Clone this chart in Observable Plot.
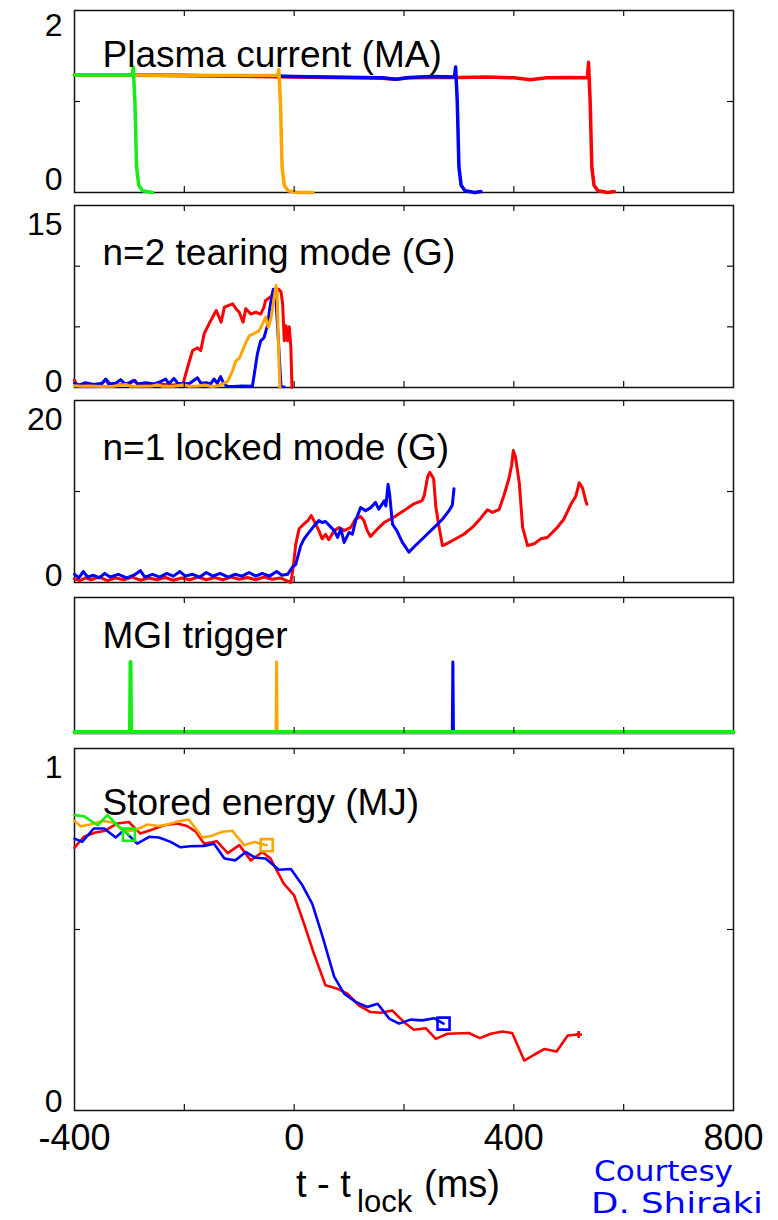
<!DOCTYPE html>
<html>
<head>
<meta charset="utf-8">
<script src="https://cdn.jsdelivr.net/npm/d3@7"></script>
<script src="https://cdn.jsdelivr.net/npm/@observablehq/plot@0.6"></script>
<style>
  html, body { margin: 0; padding: 0; background: #fff; }
  #chart { position: relative; width: 778px; height: 1220px; overflow: hidden; background: #fff; }
  #chart svg { position: absolute; left: 0; overflow: visible; background: transparent; }
</style>
</head>
<body>
<div id="chart"></div>
<script>
// ---- shared time axis (ms, relative to locking) ----
const xDomain = [-400, 800];
const xInnerTicks = [-200, 0, 200, 400, 600];
const xTickLabels = [-400, 0, 400, 800];

// ---- plasma current (MA): [t, Ip] ----
const ipRed = [[-400,1.29],[-200,1.285],[0,1.27],[60,1.265],[120,1.26],[160,1.255],[185,1.245],[210,1.26],[260,1.265],[300,1.265],[350,1.27],[400,1.26],[430,1.24],[460,1.26],[500,1.265],[534,1.26],[536,1.43],[539,1.0],[542,0.28],[546,0.08],[553,0.02],[571,0.0],[583,0.01]];
const ipBlue = [[-400,1.29],[-300,1.29],[-200,1.285],[-100,1.28],[-30,1.28],[0,1.275],[60,1.27],[120,1.265],[160,1.26],[185,1.245],[210,1.265],[250,1.275],[292,1.27],[294,1.38],[297,1.0],[300,0.28],[304,0.08],[311,0.02],[329,0.0],[340,0.01]];
const ipOrange = [[-400,1.29],[-300,1.29],[-200,1.285],[-100,1.285],[-30,1.285],[-28,1.35],[-25,1.0],[-22,0.28],[-18,0.08],[-11,0.02],[7,0.0],[34,0.0]];
const ipGreen = [[-400,1.29],[-350,1.29],[-295,1.29],[-293,1.38],[-290,1.0],[-287,0.28],[-283,0.08],[-276,0.02],[-258,0.0]];

// ---- n=2 tearing mode amplitude (G): [t, B] ----
const tmRed = [[-400,0.6],[-396,0.2],[-380,0.25],[-365,0.2],[-350,0.3],[-343,0.65],[-338,0.25],[-320,0.2],[-300,0.3],[-290,0.6],[-285,0.25],[-270,0.2],[-250,0.3],[-235,0.25],[-220,0.2],[-210,0.25],[-203,0.2],[-194,1.67],[-185,3.05],[-176,3.27],[-170,3.05],[-164,4.42],[-155,5.25],[-142,6.35],[-133,5.38],[-127,6.62],[-112,6.9],[-106,6.5],[-100,6.2],[-93,5.38],[-88,6.5],[-79,6.05],[-70,6.2],[-61,6.05],[-55,6.62],[-52,7.17],[-45,7.4],[-36,7.7],[-28,8.1],[-24,7.9],[-21,6.9],[-18,3.85],[-15,5.1],[-12,3.85],[-9,5.0],[-6,3.3],[-4,0]];
const tmBlue = [[-400,0.35],[-392,0.2],[-380,0.4],[-365,0.25],[-350,0.35],[-343,0.7],[-336,0.3],[-325,0.35],[-316,0.65],[-308,0.3],[-300,0.4],[-292,0.6],[-285,0.3],[-270,0.4],[-255,0.3],[-245,0.45],[-234,0.7],[-228,0.3],[-219,0.75],[-212,0.35],[-200,0.3],[-190,0.35],[-176,0.8],[-170,0.35],[-160,0.4],[-152,0.3],[-146,0.7],[-140,0.35],[-134,0.9],[-128,0.3],[-122,0.1],[-110,0.08],[-95,0.12],[-76,0.1],[-67,2.77],[-61,3.85],[-55,4.1],[-48,5.2],[-45,6.35],[-41,7.45],[-38,8.1],[-33,7.17],[-29,4.1],[-24,0.1],[-18,0.05]];
const tmOrange = [[-400,0.15],[-385,0.1],[-370,0.12],[-350,0.08],[-330,0.1],[-306,0.25],[-298,0.1],[-280,0.1],[-260,0.12],[-248,0.22],[-240,0.1],[-220,0.1],[-200,0.22],[-192,0.1],[-175,0.12],[-163,0.2],[-150,0.08],[-138,0.15],[-130,0.3],[-121,0.5],[-112,1.4],[-106,2.2],[-100,2.4],[-94,3.05],[-88,3.7],[-82,4.26],[-73,4.45],[-64,4.67],[-58,5.2],[-52,5.8],[-47,4.95],[-42,5.75],[-38,6.9],[-33,8.4],[-31,7.9],[-29,4.1],[-26,0]];

// ---- n=1 locked mode amplitude (G): [t, B] ----
const lmRed = [[-400,0.4],[-390,0.2],[-380,0.5],[-370,0.3],[-355,0.6],[-340,0.2],[-325,0.5],[-310,0.3],[-295,0.6],[-280,0.25],[-265,0.5],[-250,0.3],[-235,0.55],[-220,0.25],[-205,0.5],[-190,0.3],[-175,0.6],[-160,0.3],[-145,0.55],[-130,0.3],[-115,0.6],[-100,0.35],[-85,0.55],[-70,0.3],[-55,0.6],[-40,0.35],[-25,0.5],[-14,0.2],[-6,0],[-1.5,1.8],[3,4.25],[9,5.9],[18,6.45],[25,6.8],[31,7.36],[36,6.8],[45,5.7],[51,4.8],[57,5.3],[63,4.7],[73,5.7],[82,6.05],[91,5.7],[103,6.05],[112,7.0],[121,7.25],[127,6.8],[133,5.7],[139,5.05],[152,5.9],[164,6.6],[182,7.2],[200,7.9],[218,8.65],[233,9.0],[237,9.6],[243,11.6],[247,12.1],[254,11.4],[258,8.3],[264,6.05],[270,4.06],[279,4.3],[291,4.7],[309,5.3],[327,6.2],[340,7.1],[352,8.0],[361,7.7],[373,8.0],[382,9.56],[391,11.4],[396,12.86],[399,14.5],[403,13.8],[410,10.9],[416,6.05],[425,4.06],[437,4.25],[449,4.8],[461,4.95],[479,6.05],[491,6.95],[504,8.6],[513,9.5],[519,10.96],[525,10.4],[531,8.97],[533,8.6]];
const lmBlue = [[-400,0.9],[-392,0.5],[-384,1.2],[-376,0.6],[-365,0.8],[-355,0.5],[-345,1.0],[-335,0.6],[-320,0.9],[-305,0.5],[-292,0.8],[-280,1.3],[-272,0.6],[-258,0.9],[-245,0.6],[-232,1.0],[-220,0.7],[-208,1.2],[-198,0.7],[-185,0.9],[-172,0.6],[-160,1.1],[-148,0.7],[-135,1.0],[-120,0.6],[-108,0.9],[-95,0.7],[-82,1.1],[-70,0.7],[-58,1.0],[-45,0.7],[-32,1.2],[-22,0.8],[-12,0.9],[-3,1.7],[3,2.0],[6,2.7],[12,4.06],[18,4.8],[27,5.5],[36,6.2],[45,6.8],[51,6.6],[57,6.7],[73,5.7],[79,4.95],[85,5.9],[91,4.4],[100,5.5],[106,5.3],[112,6.8],[121,8.24],[130,7.9],[139,8.2],[148,8.8],[154,8.06],[164,8.97],[167,8.4],[171,10.8],[174,9.6],[179,6.4],[187,5.7],[197,4.4],[209,3.33],[218,3.9],[236,4.95],[255,6.05],[270,6.95],[282,7.9],[288,8.5],[291,10.3]];

// ---- MGI trigger signal: [t, level] ----
const mgiBlue = [[-400,0.02],[288,0.02],[289,1.0],[290,0.02],[800,0.02]];
const mgiOrange = [[-400,0.02],[-33,0.02],[-32,1.0],[-31,0.02],[800,0.02]];
const mgiGreen = [[-400,0.02],[-299,0.02],[-298,1.0],[-297,0.02],[800,0.02]];

// ---- stored energy (MJ): [t, W] ----
const weRed = [[-400,0.726],[-383,0.756],[-362,0.768],[-346,0.772],[-322,0.793],[-301,0.797],[-280,0.765],[-258,0.776],[-237,0.788],[-213,0.793],[-195,0.786],[-179,0.77],[-164,0.737],[-141,0.744],[-121,0.711],[-100,0.733],[-79,0.691],[-58,0.714],[-43,0.696],[-19,0.627],[0,0.594],[18,0.516],[36,0.433],[57,0.346],[79,0.336],[97,0.323],[118,0.29],[139,0.272],[158,0.27],[179,0.276],[200,0.244],[218,0.223],[240,0.227],[258,0.198],[279,0.212],[318,0.214],[338,0.2],[358,0.212],[379,0.218],[397,0.214],[419,0.138],[437,0.154],[456,0.17],[478,0.163],[498,0.207],[518,0.21]];
const weBlue = [[-400,0.751],[-386,0.742],[-365,0.779],[-346,0.779],[-325,0.754],[-310,0.774],[-286,0.737],[-264,0.756],[-246,0.754],[-225,0.742],[-207,0.727],[-189,0.73],[-164,0.731],[-146,0.737],[-127,0.696],[-107,0.691],[-88,0.714],[-70,0.698],[-52,0.696],[-28,0.665],[-6,0.667],[15,0.622],[33,0.571],[51,0.484],[73,0.369],[91,0.323],[112,0.3],[133,0.286],[152,0.295],[173,0.254],[191,0.24],[212,0.251],[233,0.249],[255,0.255],[272,0.24]];
const weOrange = [[-400,0.8],[-389,0.785],[-371,0.79],[-349,0.8],[-328,0.795],[-310,0.77],[-289,0.775],[-267,0.79],[-246,0.786],[-231,0.79],[-213,0.798],[-192,0.804],[-167,0.754],[-152,0.758],[-131,0.77],[-113,0.773],[-91,0.733],[-73,0.742],[-60,0.737],[-50,0.733]];
const weGreen = [[-400,0.816],[-383,0.813],[-358,0.788],[-340,0.816],[-322,0.788],[-301,0.762]];

// end-of-shot markers on the stored energy traces
const endSquares = [
  {t: -301, w: 0.762, c: "green"},
  {t: -50, w: 0.733, c: "orange"},
  {t: 272, w: 0.24, c: "blue"}
];
const endPlus = [{t: 518, w: 0.21, c: "red"}];

// ---- colours and layout ----
const colour = {red: "#ff0000", blue: "#0000ff", orange: "#ffa500", green: "#14ee14"};
const FONT = "'Liberation Sans', Arial, Helvetica, sans-serif";
const ML = 74, MR = 45, PAD = 20, WIDTH = 778;
const INK = "#111";

// stroked "+" marker
const plusSymbol = {
  draw(ctx, size) {
    const r = Math.sqrt(size / Math.PI);
    ctx.moveTo(-r, 0); ctx.lineTo(r, 0);
    ctx.moveTo(0, -r); ctx.lineTo(0, r);
  }
};

const chart = document.getElementById("chart");

function panel({top, bottom, yDomain, yInner, yLabels, title, titleBase, series, lineWidth, extra = []}) {
  const h = bottom - top;
  const fw = WIDTH - ML - MR;
  const marks = [
    Plot.frame({stroke: INK, strokeWidth: 1.5}),
    ...series.map(([data, c, sw]) => Plot.line(data, {
      x: d => d[0], y: d => d[1], stroke: colour[c],
      strokeWidth: sw ?? lineWidth, strokeLinejoin: "round", curve: "linear"
    })),
    ...extra,
    // inward ticks on all four sides
    Plot.tickX(xInnerTicks, {x: d => d, insetTop: h - 6, stroke: INK, strokeWidth: 1.2}),
    Plot.tickX(xInnerTicks, {x: d => d, insetBottom: h - 6, stroke: INK, strokeWidth: 1.2}),
    Plot.tickY(yInner, {y: d => d, insetRight: fw - 6, stroke: INK, strokeWidth: 1.2}),
    Plot.tickY(yInner, {y: d => d, insetLeft: fw - 6, stroke: INK, strokeWidth: 1.2}),
    ...yLabels.map(({v, dy}) => Plot.axisY({
      ticks: [v], tickSize: 0, tickPadding: 12, fontSize: 32, dy,
      tickFormat: d => String(d), label: null, fill: "#000"
    })),
    Plot.text([title], {
      frameAnchor: "top-left", text: d => d, dx: 28,
      dy: titleBase - top - 0.32 * 37, fontSize: 37, textAnchor: "start", fill: "#000"
    })
  ];
  const svg = Plot.plot({
    width: WIDTH,
    height: h + 2 * PAD,
    marginLeft: ML, marginRight: MR, marginTop: PAD, marginBottom: PAD,
    x: {domain: xDomain, axis: null},
    y: {domain: yDomain, axis: null},
    style: {fontFamily: FONT, background: "transparent", overflow: "visible", color: "#000"},
    marks
  });
  svg.style.top = (top - PAD) + "px";
  chart.appendChild(svg);
}

panel({
  top: 10, bottom: 192, yDomain: [0, 2], yInner: [1],
  yLabels: [{v: 2, dy: 15}, {v: 0, dy: -13}],
  title: "Plasma current (MA)", titleBase: 52, lineWidth: 3.5,
  series: [[ipRed, "red"], [ipBlue, "blue"], [ipOrange, "orange"], [ipGreen, "green"]]
});

panel({
  top: 205, bottom: 387, yDomain: [0, 15], yInner: [5, 10],
  yLabels: [{v: 15, dy: 19}, {v: 0, dy: -6}],
  title: "n=2 tearing mode (G)", titleBase: 250, lineWidth: 3,
  series: [[tmRed, "red"], [tmBlue, "blue"], [tmOrange, "orange"]]
});

panel({
  top: 400, bottom: 582, yDomain: [0, 20], yInner: [10],
  yLabels: [{v: 20, dy: 19}, {v: 0, dy: -7}],
  title: "n=1 locked mode (G)", titleBase: 445, lineWidth: 3,
  series: [[lmRed, "red"], [lmBlue, "blue"]]
});

panel({
  top: 597, bottom: 733, yDomain: [0, 1.9], yInner: [],
  yLabels: [],
  title: "MGI trigger", titleBase: 633, lineWidth: 3,
  series: [[mgiBlue, "blue"], [mgiOrange, "orange"], [mgiGreen, "green", 4]]
});

panel({
  top: 748, bottom: 1110, yDomain: [0, 1], yInner: [0.5],
  yLabels: [{v: 1, dy: 19}, {v: 0, dy: -9}],
  title: "Stored energy (MJ)", titleBase: 800, lineWidth: 2.6,
  series: [[weRed, "red"], [weBlue, "blue"], [weOrange, "orange"], [weGreen, "green"]],
  extra: [
    Plot.dot(endSquares, {x: "t", y: "w", stroke: d => colour[d.c], symbol: "square", r: 6.8, strokeWidth: 2.6, fill: "none"}),
    Plot.dot(endPlus, {x: "t", y: "w", stroke: d => colour[d.c], symbol: plusSymbol, r: 3.4, strokeWidth: 2.6, fill: "none"}),
    Plot.axisX({ticks: xTickLabels, tickSize: 0, tickPadding: 14, fontSize: 36, tickFormat: d => String(d), label: null, fill: "#000"})
  ]
});

// axis title and credit line
const notes = d3.create("svg")
  .attr("width", WIDTH).attr("height", 1220)
  .style("top", "0px").style("pointer-events", "none");
const xt = notes.append("text")
  .attr("font-family", FONT).attr("font-size", 38).attr("fill", "#000")
  .attr("y", 1197);
xt.append("tspan").attr("x", 296).text("t - t");
xt.append("tspan").attr("x", 357).attr("dy", 15).attr("font-size", 31).text("lock");
xt.append("tspan").attr("x", 424).attr("dy", -15).text("(ms)");

const credit = notes.append("g")
  .attr("font-family", "'DejaVu Sans', 'Noto Sans', sans-serif")
  .attr("fill", "#0000ff").attr("font-size", 29);
credit.append("text").attr("x", 594).attr("y", 1181)
  .attr("textLength", 139).attr("lengthAdjust", "spacingAndGlyphs").text("Courtesy");
credit.append("text").attr("x", 591).attr("y", 1213)
  .attr("textLength", 172).attr("lengthAdjust", "spacingAndGlyphs").text("D. Shiraki");
chart.appendChild(notes.node());
</script>
</body>
</html>
